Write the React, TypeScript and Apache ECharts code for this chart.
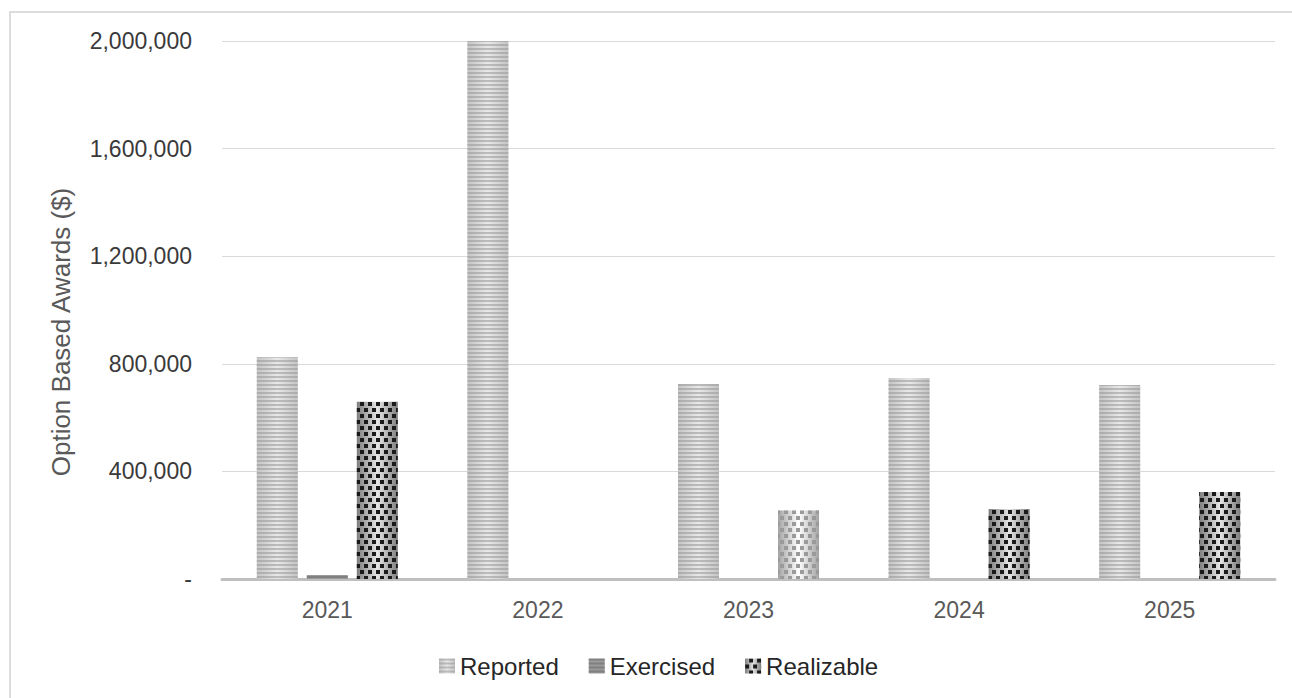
import React, { useEffect, useRef } from "react";
import * as echarts from "echarts";

const categories = ["2021", "2022", "2023", "2024", "2025"];
const reported = [824000, 2000000, 725000, 747000, 721000];
const exercised = [15000, 0, 0, 0, 0];
const realizable = [659000, 0, 255000, 260000, 323000];
const yTicks = { min: 0, max: 2000000, interval: 400000 };

const FONT = "Liberation Sans, Arial, sans-serif";

function hGrad(edge: string, mid: string) {
  return new echarts.graphic.LinearGradient(0, 0, 1, 0, [
    { offset: 0, color: edge },
    { offset: 0.5, color: mid },
    { offset: 1, color: edge },
  ]);
}

export default function App() {
  const ref = useRef<HTMLDivElement>(null);
  useEffect(() => {
    document.body.style.margin = "0";
    if (!ref.current) return;
    const chart = echarts.init(ref.current, undefined, { renderer: "svg" });

    const stripeDecal = (color: string) => ({
      symbol: "rect",
      symbolSize: 1,
      color,
      dashArrayX: [1, 0],
      dashArrayY: [2, 2],
      rotation: 0,
    });
    const dotDecal = (color: string) => ({
      symbol: "rect",
      symbolSize: 1,
      color,
      dashArrayX: [
        [3.5, 3.5],
        [0, 3.5, 3.5, 0],
      ],
      dashArrayY: [3.5, 1.5],
      rotation: 0,
    });

    const realData = realizable.map((v, i) =>
      i === 2
        ? {
            value: v,
            itemStyle: { color: hGrad("#a3a3a3", "#ffffff"), decal: dotDecal("#9a9a9a") },
          }
        : v
    );

    chart.setOption({
      animation: false,
      grid: { left: 222, right: 17, top: 41, bottom: 119 },
      legend: {
        left: 434,
        top: 649,
        itemWidth: 16,
        itemHeight: 15,
        itemGap: 30,
        icon: "rect",
        textStyle: { fontFamily: FONT, fontSize: 24, color: "#262626" },
        data: ["Reported", "Exercised", "Realizable"],
      },
      graphic: [
        {
          type: "rect",
          shape: { x: 10, y: 12, width: 1400, height: 800 },
          style: { fill: "none", stroke: "#dcdcdc", lineWidth: 2 },
          silent: true,
        },
        {
          type: "text",
          x: 61,
          y: 332,
          rotation: Math.PI / 2,
          style: {
            text: "Option Based Awards ($)",
            fontFamily: FONT,
            fontSize: 26,
            fill: "#595959",
            align: "center",
            verticalAlign: "middle",
          },
        },
      ],
      xAxis: {
        type: "category",
        data: categories,
        axisTick: { show: false },
        axisLine: { lineStyle: { color: "#bfbfbf", width: 3 } },
        axisLabel: { fontFamily: FONT, fontSize: 23, color: "#595959", margin: 19 },
      },
      yAxis: {
        type: "value",
        min: yTicks.min,
        max: yTicks.max,
        interval: yTicks.interval,
        axisLine: { show: false },
        axisTick: { show: false },
        splitLine: { lineStyle: { color: "#d9d9d9", width: 1 } },
        axisLabel: {
          fontFamily: FONT,
          fontSize: 23,
          color: "#3a3a3a",
          margin: 30,
          formatter: (v: number) => (v === 0 ? "-" : v.toLocaleString("en-US")),
        },
      },
      series: [
        {
          name: "Reported",
          type: "bar",
          barWidth: 41,
          barGap: "22%",
          data: reported,
          itemStyle: { color: hGrad("#c4c4c4", "#e8e8e8"), decal: stripeDecal("rgba(150,150,150,0.55)") },
        },
        {
          name: "Exercised",
          type: "bar",
          barWidth: 41,
          barGap: "22%",
          data: exercised,
          itemStyle: { color: "#9a9a9a", decal: stripeDecal("rgba(110,110,110,0.6)") },
        },
        {
          name: "Realizable",
          type: "bar",
          barWidth: 41,
          barGap: "22%",
          data: realData,
          itemStyle: { color: hGrad("#7d7d7d", "#e6e6e6"), decal: dotDecal("#1a1a1a") },
        },
      ],
    });
    return () => chart.dispose();
  }, []);
  return <div ref={ref} style={{ width: 1292, height: 698 }} />;
}
